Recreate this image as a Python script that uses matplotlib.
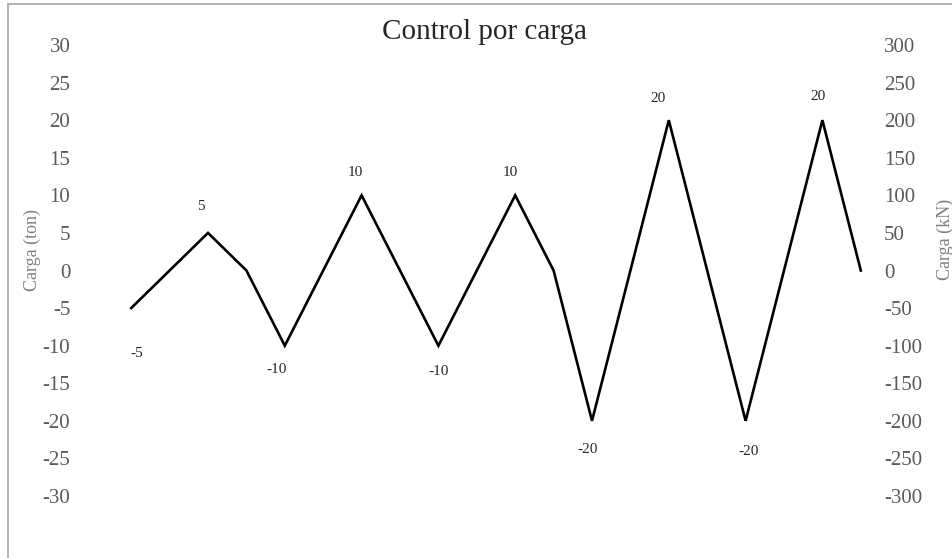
import matplotlib
matplotlib.use("Agg")
import matplotlib.pyplot as plt
from matplotlib.patches import Rectangle

# ── Load history (ton); one value per loading step ───────────────────────
STEPS = list(range(20))
LOAD_TON = [-5, 0, 5, 0, -10, 0, 10, 0, -10, 0, 10, 0, -20, 0, 20, 0, -20, 0, 20, 0]
TON_TICKS = list(range(-30, 31, 5))
KN_TICKS = list(range(-300, 301, 50))

# label nudges (pixels) for the peak values, keyed by step index
LABEL_OFFSETS = {
    0: (6, -45), 2: (-7, 26), 4: (-8, -24), 6: (-6, 23), 8: (0, -26),
    10: (-5, 23), 12: (-4, -29), 14: (-11, 22), 16: (3, -31), 18: (-4, 24),
}

W, H = 953, 558
plt.rcParams["font.family"] = ["Liberation Serif", "DejaVu Serif"]

fig = plt.figure(figsize=(W / 100, H / 100), dpi=100, facecolor="white")
ax = fig.add_axes([112 / W, 1 - 496 / H, 768 / W, 451 / H])

ax.plot(STEPS, LOAD_TON, color="black", lw=1.9, solid_joinstyle="miter", zorder=3)

for i, v in enumerate(LOAD_TON):
    if v == 0:
        continue
    dx, dy = LABEL_OFFSETS.get(i, (0, 20 if v > 0 else -20))
    ax.annotate(str(v), xy=(i, v), xytext=(dx, dy), textcoords="offset pixels",
                ha="center", va="center", fontsize=11, color="#262626")

ax.set_xlim(-0.5, 19.5)
ax.set_ylim(-30, 30)
ax.set_yticks(TON_TICKS)
ax.set_yticklabels([str(t) for t in TON_TICKS])
ax.set_xticks([])
ax.tick_params(axis="y", length=0, pad=30, labelsize=15, labelcolor="#595959")
for s in ax.spines.values():
    s.set_visible(False)

ax2 = ax.twinx()
ax2.set_ylim(-300, 300)
ax2.set_yticks(KN_TICKS)
ax2.set_yticklabels([str(t) for t in KN_TICKS])
ax2.tick_params(axis="y", length=0, pad=3, labelsize=15, labelcolor="#595959")
for s in ax2.spines.values():
    s.set_visible(False)

# titles
fig.text(485 / W, 1 - 32 / H, "Control por carga", ha="center", va="center",
         fontsize=21, color="#262626")
fig.text(32 / W, 1 - 250 / H, "Carga (ton)", rotation=90, ha="center", va="center",
         fontsize=13, color="#7f7f7f")
fig.text(945 / W, 1 - 239 / H, "Carga (kN)", rotation=90, ha="center", va="center",
         fontsize=13, color="#7f7f7f")

# chart frame (only top and left edges fall inside the image)
top = 1 - 4 / H
fig.add_artist(Rectangle((8 / W, -0.2), 1.2, top + 0.2, transform=fig.transFigure,
                         fill=False, edgecolor="#a6a6a6", lw=1.2))

fig.savefig("out.png", dpi=100, facecolor="white")
